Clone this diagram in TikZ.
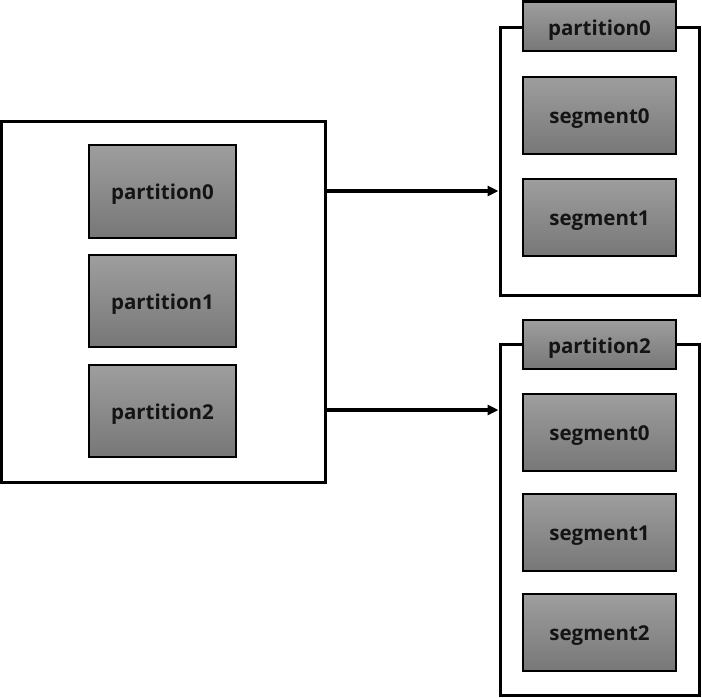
\documentclass[tikz,border=0pt]{standalone}
\usepackage{fontspec}
\setmainfont{Open Sans}[BoldFont={* Bold}]
\usetikzlibrary{arrows.meta}
\definecolor{gtop}{HTML}{9E9E9E}
\definecolor{gbot}{HTML}{777777}
\begin{document}
\begin{tikzpicture}[x=1pt,y=-1pt,
  outerbox/.style={draw=black,line width=3pt,fill=white},
  item/.style={draw=black,line width=2.2pt,top color=gtop,bottom color=gbot,middle color=gtop!50!gbot},
  lbl/.style={font=\fontsize{20.5}{24}\selectfont\bfseries,text=black!92,yshift=-2.5pt},
  conn/.style={line width=3.2pt,-{Triangle[length=11pt,width=10pt]}}]
\useasboundingbox (0,0) rectangle (702,697);
% left box
\draw[outerbox] (1.5,121) rectangle (325,482);
\path[item] (89,145) rectangle (236,238);
\node[lbl] (lp0) at (162.5,192) {partition0};
\path[item] (89,255) rectangle (236,347);
\node[lbl] (lp1) at (162.5,301.5) {partition1};
\path[item] (89,365) rectangle (236,457);
\node[lbl] (lp2) at (162.5,411.5) {partition2};
% right box 1
\draw[outerbox] (500,27) rectangle (699.5,295);
\path[item] (523,1.5) rectangle (676,51);
\node[lbl] (h0) at (599.5,27.5) {partition0};
\path[item] (523,77) rectangle (676,154);
\node[lbl] (s00) at (599.5,116) {segment0};
\path[item] (523,179) rectangle (676,256);
\node[lbl] (s01) at (599.5,218) {segment1};
% right box 2
\draw[outerbox] (500,344) rectangle (699.5,695.5);
\path[item] (523,320) rectangle (676,369);
\node[lbl] (h2) at (599.5,345.5) {partition2};
\path[item] (523,394) rectangle (676,471);
\node[lbl] (s20) at (599.5,433) {segment0};
\path[item] (523,494) rectangle (676,571);
\node[lbl] (s21) at (599.5,533) {segment1};
\path[item] (523,594) rectangle (676,671);
\node[lbl] (s22) at (599.5,633) {segment2};
% connectors
\coordinate (a1s) at (326.5,191);
\coordinate (a1e) at (498.5,191);
\coordinate (a2s) at (326.5,410);
\coordinate (a2e) at (498.5,410);
\draw[conn] (a1s) -- (a1e);
\draw[conn] (a2s) -- (a2e);
\end{tikzpicture}
\end{document}
